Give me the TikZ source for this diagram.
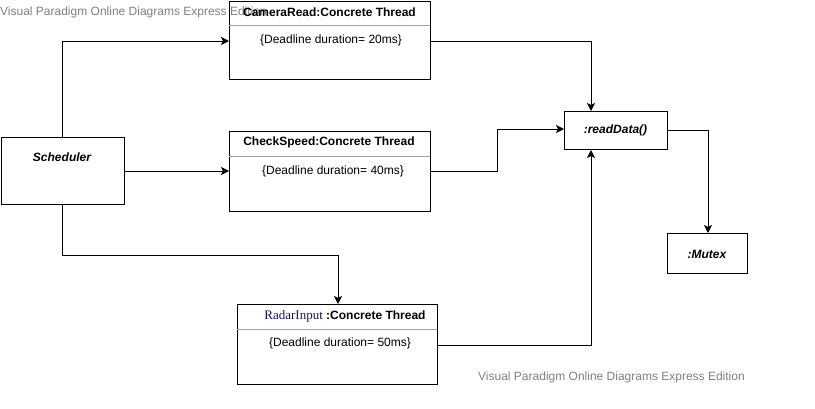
\documentclass[tikz,border=0pt]{standalone}
\usepackage{fontspec}
\setmainfont{Liberation Sans}
\newfontfamily\radarserif{Liberation Serif}
\usetikzlibrary{arrows.meta,positioning}
\definecolor{wm}{RGB}{128,128,128}
\definecolor{divgray}{RGB}{160,160,160}
\definecolor{navy}{RGB}{20,20,90}
\tikzset{
  box/.style={draw=black, line width=1pt, anchor=north west, inner sep=0pt, fill=white},
  ttl/.style={font=\fontsize{12}{14}\selectfont\bfseries, inner sep=0pt},
  bodytxt/.style={font=\fontsize{12}{14}\selectfont, inner sep=0pt},
  itl/.style={font=\fontsize{12}{14}\selectfont\bfseries\itshape, inner sep=0pt},
  conn/.style={draw=black, line width=1pt, -{Stealth[length=8pt,width=8pt,inset=2pt]}},
  wmark/.style={font=\fontsize{12}{14}\selectfont, text=wm, inner sep=0pt, anchor=west}
}
\begin{document}
\begin{tikzpicture}[x=1pt,y=-1pt]
\useasboundingbox (0,0) rectangle (815,408);
% boxes
\node[box, minimum width=201pt, minimum height=78pt] (cam) at (229,1) {};
\node[box, minimum width=201pt, minimum height=80pt] (chk) at (229,131) {};
\node[box, minimum width=200pt, minimum height=80pt] (rad) at (237,304) {};
\node[box, minimum width=123pt, minimum height=67pt] (sch) at (0.5,137) {};
\node[box, minimum width=103pt, minimum height=38pt] (rd) at (564,111) {};
\node[box, minimum width=80pt, minimum height=40pt] (mx) at (667,233) {};
% dividers
\draw[divgray, line width=1pt] (229,25) -- (430,25);
\draw[divgray, line width=1pt] (229,156) -- (430,156);
\draw[divgray, line width=1pt] (237,329) -- (437,329);
% watermarks
\node[wmark] (wm1) at (0,12.5) {Visual Paradigm Online Diagrams Express Edition};
\node[wmark] (wm2) at (478,377) {Visual Paradigm Online Diagrams Express Edition};
% texts
\node[ttl] (camt) at (329.5,12.5) {CameraRead:Concrete Thread};
\node[bodytxt] (camb) at (331,40) {\{Deadline duration= 20ms\}};
\node[ttl] (chkt) at (329,142.5) {CheckSpeed:Concrete Thread};
\node[bodytxt] (chkb) at (333,171) {\{Deadline duration= 40ms\}};
\node[ttl] (radt) at (345,316.5) {{\radarserif\mdseries\fontsize{13}{14}\selectfont\color{navy}RadarInput} :Concrete Thread};
\node[bodytxt] (radb) at (340,343.5) {\{Deadline duration= 50ms\}};
\node[itl] (scht) at (62,157.5) {Scheduler};
\node[itl] (rdt) at (615.5,130) {:readData()};
\node[itl] (mxt) at (707,254) {:Mutex};
% connectors
\coordinate (c1) at (62,41);
\draw[conn] (sch.north -| c1) |- (cam.west |- c1);
\draw[conn] (sch.east |- chkb) -- (chk.west |- chkb);
\coordinate (c2) at (338,255);
\draw[conn] (sch.south -| c1) |- (c2) -- (rad.north -| c2);
\coordinate (c3) at (591,41);
\draw[conn] (cam.east |- c3) -| (rd.north -| c3);
\coordinate (c4) at (497,129);
\draw[conn] (chk.east |- chkb) -| (c4) -- (rd.west |- c4);
\coordinate (c5) at (591,345);
\draw[conn] (rad.east |- c5) -| (rd.south -| c5);
\coordinate (c6) at (708,130);
\draw[conn] (rd.east |- c6) -| (mx.north -| c6);
\end{tikzpicture}
\end{document}
